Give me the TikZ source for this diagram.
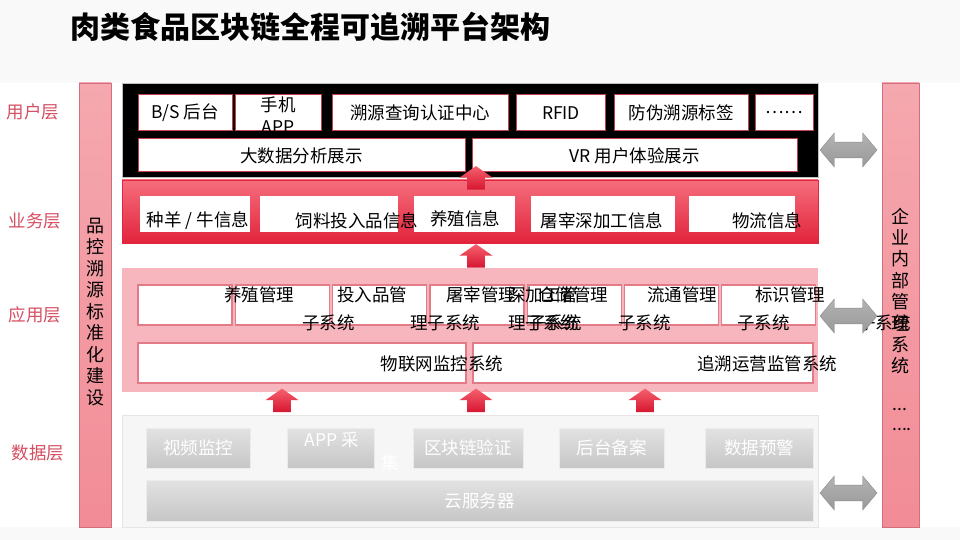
\documentclass[tikz,border=0pt]{standalone}
\usepackage{fontspec}
\setmainfont{Noto Sans CJK SC}
\usepackage{xcolor}
\usepackage{tikz}
\usetikzlibrary{shapes.arrows, positioning}

\definecolor{userred}{RGB}{192,64,78}
\definecolor{layertxt}{RGB}{214,78,98}
\definecolor{bandtop}{RGB}{245,168,175}
\definecolor{bandbot}{RGB}{242,140,150}
\definecolor{bandline}{RGB}{208,112,126}
\definecolor{biztop}{RGB}{245,110,124}
\definecolor{bizbot}{RGB}{226,36,60}
\definecolor{apppink}{RGB}{247,182,189}
\definecolor{appline}{RGB}{226,122,136}
\definecolor{arrtop}{RGB}{246,96,110}
\definecolor{arrbot}{RGB}{214,22,48}
\definecolor{datatop}{RGB}{226,226,226}
\definecolor{databot}{RGB}{198,198,198}

\begin{document}
\begin{tikzpicture}[x=1pt, y=-1pt,
  every node/.style={font=\fontsize{17.5}{22}\selectfont, inner sep=0pt},
  layer/.style={text=layertxt, font=\fontsize{17.5}{22}\selectfont},
  sidebar/.style={draw=bandline, top color=bandtop, bottom color=bandbot, minimum height=444},
  ubox/.style={draw=userred, line width=1pt, fill=white},
  bbox/.style={fill=white, minimum height=36},
  abox/.style={draw=appline, line width=1.2pt, fill=white},
  dbox/.style={draw=gray!15, top color=datatop, bottom color=databot, text=white},
  redup/.style={single arrow, shape border rotate=90, top color=arrtop, bottom color=arrbot,
    minimum height=23, minimum width=33, inner sep=8.5pt, single arrow head extend=7.5pt,
    single arrow tip angle=110},
  twoway/.style={double arrow, top color=black!30, middle color=black!58, bottom color=black!40,
    draw=black!45, minimum height=57, minimum width=34, inner sep=7.5pt,
    double arrow head extend=9pt, double arrow tip angle=100}]

\useasboundingbox (0,0) rectangle (960,540);
\fill[gray!5] (0,0) rectangle (960,540);
\fill[white] (0,83) rectangle (960,527);

\node[anchor=west, font=\fontsize{30}{34}\selectfont\bfseries] (title) at (70,27) {肉类食品区块链全程可追溯平台架构};

% layer names
\node[layer] (l1) at (33,112) {用户层};
\node[layer] (l2) at (35,221) {业务层};
\node[layer] (l3) at (35,315) {应用层};
\node[layer] (l4) at (38,453) {数据层};

% side bars
\node[sidebar, minimum width=32] (left) at (95,305) {};
\node[align=center, font=\fontsize{18}{21.5}\selectfont] (lefttxt) at (95,312)
  {品\\控\\溯\\源\\标\\准\\化\\建\\设};
\node[sidebar, minimum width=37] (right) at (900.5,305) {};
\node[align=center, font=\fontsize{18}{21.4}\selectfont] (righttxt) at (900.5,291)
  {企\\业\\内\\部\\管\\理\\系\\统};
\node (dots1) at (900,410) {...};
\node (dots2) at (902,430) {....};

% user layer
\node[fill=black, draw=gray!50, minimum width=696, minimum height=94] (user) at (470,130) {};
\node[ubox, minimum width=94, minimum height=36] (bs) at (185,113) {B/S 后台};
\node[ubox, minimum width=86, minimum height=36] (phone) at (278,113) {};
\node[align=center] (phonetxt) at (278,115) {手机\\APP};
\node[ubox, minimum width=176, minimum height=36] (query) at (420,113) {溯源查询认证中心};
\node[ubox, minimum width=89, minimum height=36] (rfid) at (561,113) {RFID};
\node[ubox, minimum width=134, minimum height=36] (label) at (681,113) {防伪溯源标签};
\node[ubox, minimum width=58, minimum height=36] (more) at (784,113) {……};
\node[ubox, minimum width=327, minimum height=33] (bigdata) at (301.5,155.5) {大数据分析展示};
\node[ubox, minimum width=325, minimum height=33] (vr) at (634.5,155.5) {VR 用户体验展示};

% business layer
\node[draw=bizbot, top color=biztop, bottom color=bizbot, minimum width=696, minimum height=63] (biz) at (470,211.5) {};
\node[bbox, minimum width=110] (b1) at (195,214) {};
\node[bbox, minimum width=138] (b2) at (329,214) {};
\node[bbox, minimum width=101] (b3) at (464.5,214) {};
\node[bbox, minimum width=144] (b4) at (603,214) {};
\node[bbox, minimum width=106] (b5) at (742,214) {};
\node (b1txt) at (198,221) {种羊 / 牛信息};
\node (b2txt) at (357,221) {饲料投入品信息};
\node (b3txt) at (465,219) {养殖信息};
\node (b4txt) at (602,221) {屠宰深加工信息};
\node (b5txt) at (767,221) {物流信息};

% application layer
\node[fill=apppink, minimum width=696, minimum height=124] (app) at (470,330) {};
\foreach \i in {0,...,6}
  \node[abox, minimum width=94, minimum height=40] (sub\i) at (185+97.3*\i,305) {};
\node[abox, minimum width=328, minimum height=40] (iot) at (302,363) {};
\node[abox, minimum width=340, minimum height=40] (ops) at (643,363) {};
\node[anchor=west] (s1a) at (224,295) {养殖管理};
\node[anchor=west] (s2a) at (337,295) {投入品管};
\node[anchor=west] (s3a) at (446,295) {屠宰管理};
\node[anchor=west] (s4a) at (508,295) {深加工管};
\node[anchor=west] (s5a) at (538,295) {仓储管理};
\node[anchor=west] (s6a) at (647,295) {流通管理};
\node[anchor=west] (s7a) at (755,295) {标识管理};
\node[anchor=west] (s1b) at (302,323) {子系统};
\node[anchor=west] (s2b) at (410,323) {理子系统};
\node[anchor=west] (s4b) at (508,323) {理子系统};
\node[anchor=west] (s3b) at (529,323) {子系统};
\node[anchor=west] (s6b) at (618,323) {子系统};
\node[anchor=west] (s7b) at (737,323) {子系统};
\node[anchor=west] (s5b) at (858,323) {子系统};
\node (iottxt) at (442,364) {物联网监控系统};
\node (opstxt) at (767,364) {追溯运营监管系统};

% data layer
\node[fill=gray!7, draw=gray!20, minimum width=696, minimum height=112] (data) at (470,471) {};
\node[dbox, minimum width=104, minimum height=40] (video) at (198,448) {视频监控};
\node[dbox, minimum width=87, minimum height=40] (collect) at (330.5,448) {};
\node[text=white] (collecta) at (332,440) {APP 采};
\node[text=white] (collectb) at (390,463) {集};
\node[dbox, minimum width=110, minimum height=40] (chain) at (468,448) {区块链验证};
\node[dbox, minimum width=105, minimum height=40] (record) at (611.5,448) {后台备案};
\node[dbox, minimum width=108, minimum height=40] (warn) at (759,448) {数据预警};
\node[dbox, minimum width=667, minimum height=41] (cloud) at (479.5,500.5) {云服务器};

% arrows between layers
\node[redup] (up1) at (476,181) {};
\node[redup] (up2) at (476,259) {};
\node[redup] (up3) at (282,403.5) {};
\node[redup] (up4) at (476,403.5) {};
\node[redup] (up5) at (645,403.5) {};
\node[twoway] (io1) at (848.5,150) {};
\node[twoway] (io2) at (848.5,316) {};
\node[twoway] (io3) at (848.5,493) {};
\end{tikzpicture}
\end{document}
